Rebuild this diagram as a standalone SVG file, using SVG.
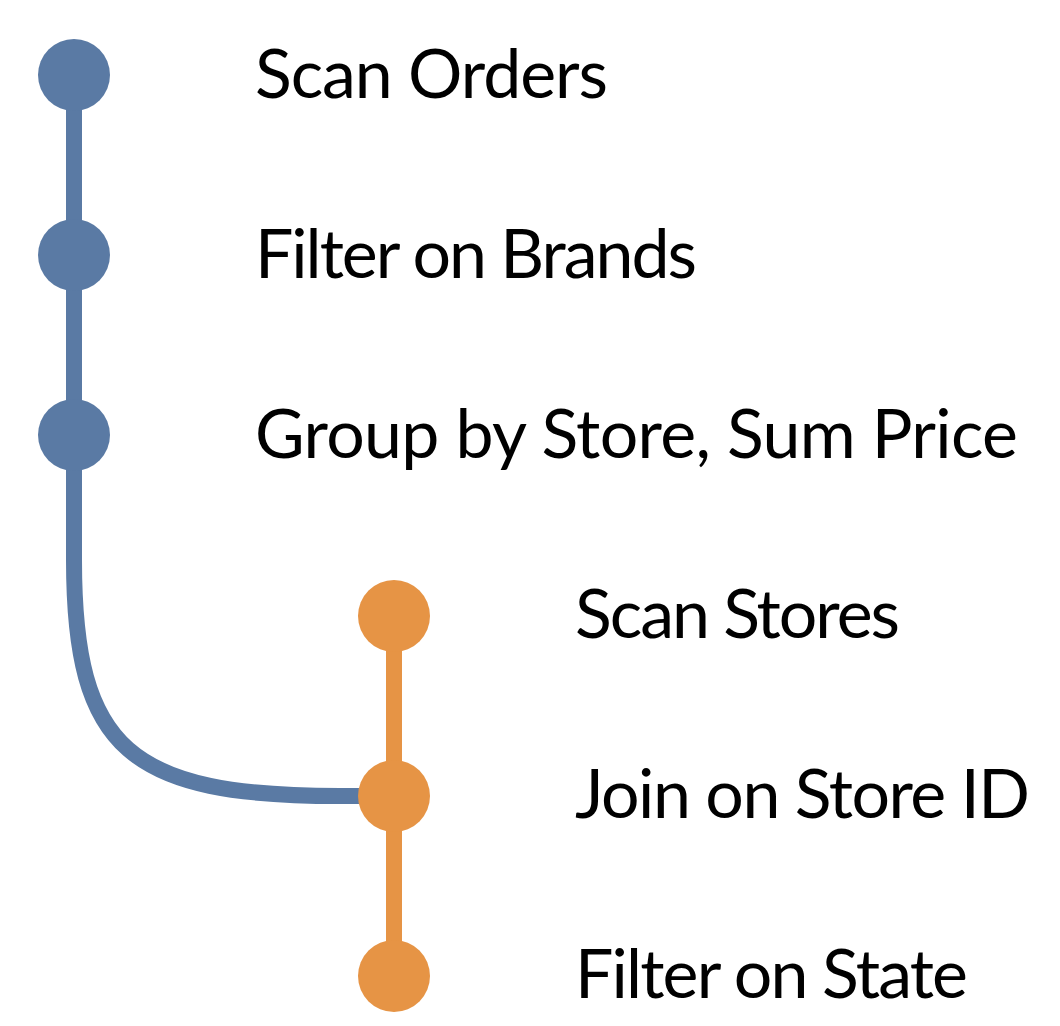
<svg xmlns="http://www.w3.org/2000/svg" width="1060" height="1026" viewBox="0 0 1060 1026">
<style>
.blue{fill:#5a7aa4}
.orange{fill:#e69445}
.lb{stroke:#5a7aa4;stroke-width:16;fill:none}
.lo{stroke:#e69445;stroke-width:16;fill:none}
text{font-family:"Lato","Open Sans",sans-serif;font-size:68px;fill:#000}
</style>
<rect width="1060" height="1026" fill="#fff"/>
<g id="connectors">
<path class="lb" d="M74,75 V435"/>
<path class="lb" d="M74,435 V560 C74,750 130,796 340,796 H394"/>
<path class="lo" d="M394,616 V976"/>
</g>
<g id="n1"><circle class="blue" cx="74" cy="75" r="36"/><text x="255" y="98" textLength="353">Scan Orders</text></g>
<g id="n2"><circle class="blue" cx="74" cy="255" r="36"/><text x="255" y="278" textLength="442">Filter on Brands</text></g>
<g id="n3"><circle class="blue" cx="74" cy="435" r="36"/><text x="255" y="458" textLength="763">Group by Store, Sum Price</text></g>
<g id="n4"><circle class="orange" cx="394" cy="616" r="36"/><text x="575" y="638" textLength="325">Scan Stores</text></g>
<g id="n5"><circle class="orange" cx="394" cy="796" r="36"/><text x="575" y="818" textLength="455">Join on Store ID</text></g>
<g id="n6"><circle class="orange" cx="394" cy="976" r="36"/><text x="575" y="998" textLength="393">Filter on State</text></g>
</svg>
